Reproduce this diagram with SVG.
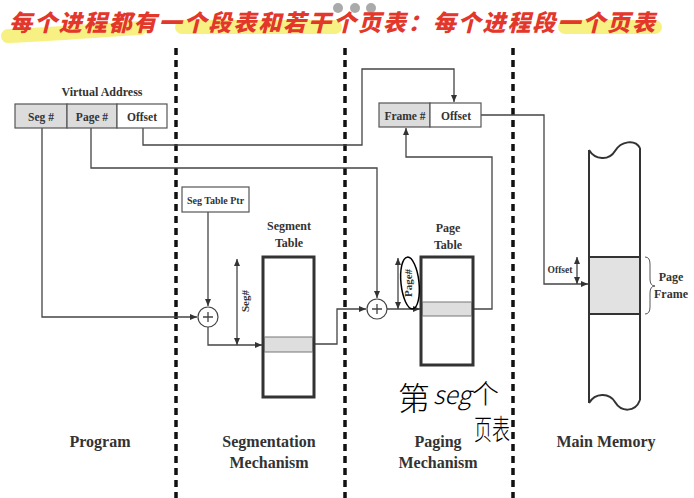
<svg xmlns="http://www.w3.org/2000/svg" width="694" height="498" viewBox="0 0 694 498">
<style>
.t{font-family:"Liberation Serif","Times New Roman",serif;font-weight:bold;fill:#333;text-anchor:middle}
.ln{fill:none;stroke:#444;stroke-width:1.3}
.box{fill:#fff;stroke:#555;stroke-width:1.2}
.cell{fill:#dcdcdc;stroke:#555;stroke-width:1.2}
.tbl{fill:#fff;stroke:#333;stroke-width:3}
.row{fill:#dedede;stroke:#777;stroke-width:1}
.div{stroke:#111;stroke-width:3.5;stroke-dasharray:7 5;fill:none}
.hl{fill:none;stroke:#f6ee6e;stroke-linecap:round;opacity:0.85}
.hand{font-family:"Noto Sans CJK SC",sans-serif;fill:#000}
</style>
<defs>
<marker id="a" markerUnits="userSpaceOnUse" markerWidth="8" markerHeight="7" refX="7" refY="3" orient="auto-start-reverse"><path d="M0,0 L7,3 L0,6 z" fill="#333"/></marker>
</defs>
<rect width="694" height="498" fill="#fff"/>
<g id="title">
<path class="hl" d="M8,36 C60,34 100,30 140,28" stroke-width="14"/>
<path class="hl" d="M182,27 L335,27" stroke-width="14"/>
<path class="hl" d="M565,27 L655,27" stroke-width="14"/>
<circle cx="338" cy="8" r="5" fill="#aaa"/><circle cx="355" cy="8" r="5" fill="#aaa"/><circle cx="371" cy="8" r="5" fill="#aaa"/>
<text x="9" y="31" textLength="646" lengthAdjust="spacing" style="font-family:'Noto Sans CJK SC',sans-serif;font-weight:900;font-size:23px;fill:#e3372b;font-style:italic">每个进程都有一个段表和若干个页表：每个进程段一个页表</text>
</g>
<g id="dividers">
<path class="div" d="M176,48 V498 M345,48 V498 M513,48 V498"/>
</g>
<g id="connectors">
<path class="ln" d="M42,128 V317 H197" marker-end="url(#a)"/>
<path class="ln" d="M91,128 V168 H377 V298" marker-end="url(#a)"/>
<path class="ln" d="M143,128 V145 H362 V69 H454 V102" marker-end="url(#a)"/>
<path class="ln" d="M208,212 V306" marker-end="url(#a)"/>
<path class="ln" d="M208,327 V345 H262" marker-end="url(#a)"/>
<path class="ln" d="M237,259 V345" marker-start="url(#a)" marker-end="url(#a)"/>
<path class="ln" d="M314,344 H337 V309 H366" marker-end="url(#a)"/>
<path class="ln" d="M387,309 H420" marker-end="url(#a)"/>
<path class="ln" d="M398,258 V309" marker-start="url(#a)" marker-end="url(#a)"/>
<path class="ln" d="M473,309 H492 V157 H406 V128" marker-end="url(#a)"/>
<path class="ln" d="M481,115 H544 V284 H588" marker-end="url(#a)"/>
<path class="ln" d="M577,257 V284" marker-start="url(#a)" marker-end="url(#a)"/>
</g>
<g id="virtual-address">
<text class="t" x="102" y="96" font-size="12">Virtual Address</text>
<rect class="cell" x="15" y="104" width="52" height="24"/>
<rect class="cell" x="67" y="104" width="50" height="24"/>
<rect class="box" x="117" y="104" width="50" height="24"/>
<text class="t" x="41" y="121" font-size="11.5">Seg #</text>
<text class="t" x="92" y="121" font-size="11.5">Page #</text>
<text class="t" x="142" y="121" font-size="11.5">Offset</text>
</g>
<g id="seg-table-ptr">
<rect class="box" x="182" y="187" width="67" height="25"/>
<text class="t" x="215.5" y="204" font-size="10">Seg Table Ptr</text>
</g>
<g id="seg-adder">
<circle cx="208" cy="317" r="10" fill="#fff" stroke="#444" stroke-width="1.2"/>
<path class="ln" d="M203,317 H213 M208,312 V322"/>
</g>
<g id="segment-table">
<text class="t" x="289" y="230" font-size="12">Segment</text>
<text class="t" x="289" y="247" font-size="12">Table</text>
<rect class="tbl" x="263" y="257" width="51" height="140"/>
<rect class="row" x="264.5" y="337" width="48" height="15"/>
<text class="t" x="249" y="301" font-size="11" transform="rotate(-90 249 301)">Seg#</text>
</g>
<g id="page-adder">
<circle cx="377" cy="309" r="10" fill="#fff" stroke="#444" stroke-width="1.2"/>
<path class="ln" d="M372,309 H382 M377,304 V314"/>
</g>
<g id="page-table">
<text class="t" x="448" y="232" font-size="12">Page</text>
<text class="t" x="448" y="249" font-size="12">Table</text>
<rect class="tbl" x="421" y="257" width="52" height="108"/>
<rect class="row" x="422.5" y="302" width="49" height="14"/>
<text class="t" x="412" y="283" font-size="11" transform="rotate(-90 412 283)">Page#</text>
</g>
<g id="frame-offset">
<rect class="cell" x="379" y="103" width="51" height="24"/>
<rect class="box" x="430" y="103" width="51" height="24"/>
<text class="t" x="405" y="120" font-size="11.5">Frame #</text>
<text class="t" x="456" y="120" font-size="11.5">Offset</text>
</g>
<g id="main-memory">
<rect x="589" y="257" width="51" height="57" fill="#e2e2e2"/>
<path d="M589,150 V403 M640,148 V400 M589,257 H640 M589,314 H640" stroke="#333" stroke-width="2" fill="none"/>
<path d="M589,150 C595,160 609,161 615,151 C621,141 635,139 640,148" stroke="#333" stroke-width="2" fill="none"/>
<path d="M589,403 C595,393 609,392 615,402 C621,412 635,413 640,400" stroke="#333" stroke-width="2" fill="none"/>
<text class="t" x="560" y="273" font-size="9.5">Offset</text>
<path d="M645,257 Q650,257 650,264 V279 Q650,286 655,286 Q650,286 650,293 V307 Q650,314 645,314" fill="none" stroke="#555" stroke-width="1"/>
<text class="t" x="671" y="281" font-size="12">Page</text>
<text class="t" x="671" y="298" font-size="12">Frame</text>
</g>
<g id="section-labels">
<text class="t" x="100" y="447" font-size="16">Program</text>
<text class="t" x="269" y="447" font-size="16">Segmentation</text>
<text class="t" x="269" y="468" font-size="16">Mechanism</text>
<text class="t" x="438" y="447" font-size="16">Paging</text>
<text class="t" x="438" y="468" font-size="16">Mechanism</text>
<text class="t" x="606" y="447" font-size="16">Main Memory</text>
</g>
<g id="annotation">
<ellipse cx="410" cy="283" rx="9" ry="26" transform="rotate(-6 410 283)" fill="none" stroke="#000" stroke-width="1.5"/>
<text class="hand" x="398" y="410" font-size="32" font-weight="300">第</text>
<text class="hand" x="433" y="404" font-size="25" font-weight="300" font-style="italic">seg</text>
<text class="hand" x="472" y="404" font-size="27" font-weight="300">个</text>
<text class="hand" x="474" y="440" font-size="28" font-weight="300" textLength="36" lengthAdjust="spacingAndGlyphs">页表</text>
</g>
</svg>
